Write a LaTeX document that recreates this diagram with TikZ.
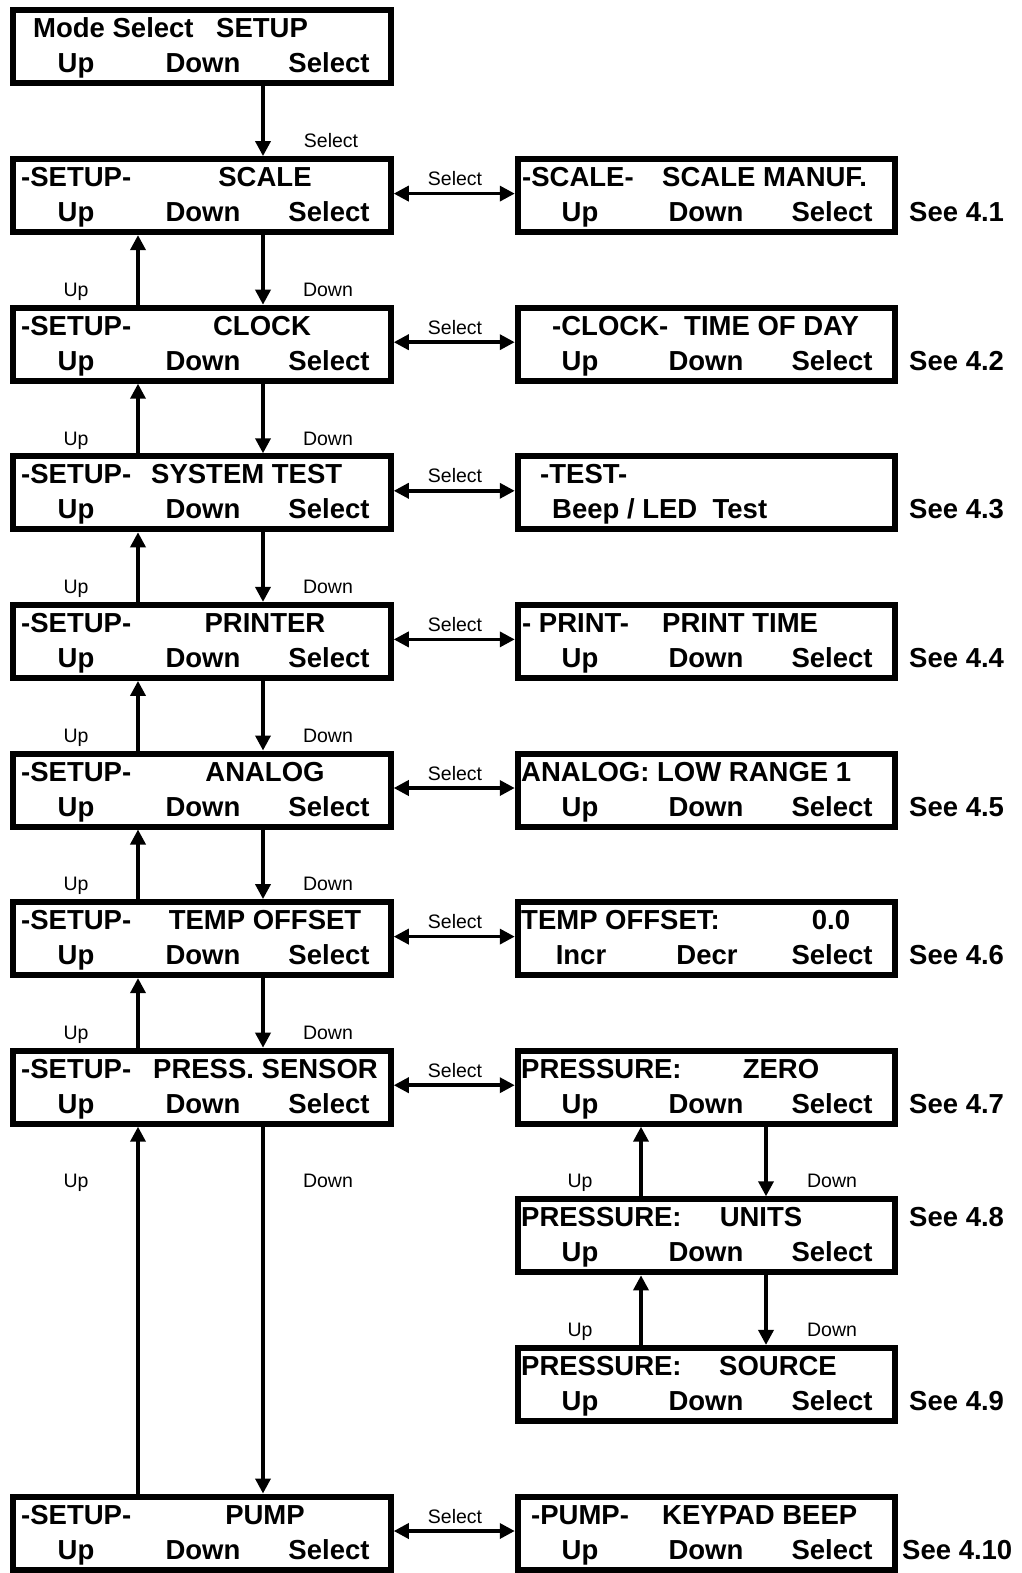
\documentclass[tikz,border=0pt]{standalone}
\usepackage{fontspec}
\setmainfont{Liberation Sans}
\usepackage{tikz}
\usetikzlibrary{arrows.meta, calc, positioning}
\tikzset{
	screen/.style={
			draw=black,
			line width=6pt,
			minimum width=377.5pt,
			minimum height=73pt,
			inner sep=0pt
		},
	keytext/.style={
			font=\fontsize{27.5}{27.5}\selectfont\bfseries,
			inner sep=0pt
		},
	smalltext/.style={
			font=\fontsize{19.5}{19.5}\selectfont,
			inner sep=0pt,
			anchor=base
		},
	arr/.style={
			line width=3.5pt,
			-{Triangle[length=15pt,width=15pt]}
		},
	dblarr/.style={
			line width=3.5pt,
			{Triangle[length=15pt,width=15pt]}-{Triangle[length=15pt,width=15pt]}
		}
}

\begin{document}
\begin{tikzpicture}[x=1pt, y=-1pt]
	\useasboundingbox (0,0) rectangle (1021,1573);

	% columns for the up / down connectors
	\coordinate (upL) at (138,0);
	\coordinate (dnL) at (263,0);
	\coordinate (upR) at (641,0);
	\coordinate (dnR) at (766,0);

	% mode select
	\node[screen] (mode) at (202, 47) {};
	\node[keytext, anchor=base west] (modeA) at (33, 38) {Mode Select};
	\node[keytext, anchor=base west] (modeB) at (216, 38) {SETUP};
	\node[keytext, anchor=base] (modeU) at (76, 73) {Up};
	\node[keytext, anchor=base] (modeD) at (203, 73) {Down};
	\node[keytext, anchor=base] (modeS) at (329, 73) {Select};

	% setup menu, left column
	\node[screen] (setscale) at (202, 195.6) {};
	\node[keytext, anchor=base west] (setscaleA) at (21, 186.6) {-SETUP-};
	\node[keytext, anchor=base] (setscaleB) at (265, 186.6) {SCALE};
	\node[keytext, anchor=base] (setscaleU) at (76, 221.6) {Up};
	\node[keytext, anchor=base] (setscaleD) at (203, 221.6) {Down};
	\node[keytext, anchor=base] (setscaleS) at (329, 221.6) {Select};

	\node[screen] (setclock) at (202, 344.2) {};
	\node[keytext, anchor=base west] (setclockA) at (21, 335.2) {-SETUP-};
	\node[keytext, anchor=base] (setclockB) at (262, 335.2) {CLOCK};
	\node[keytext, anchor=base] (setclockU) at (76, 370.2) {Up};
	\node[keytext, anchor=base] (setclockD) at (203, 370.2) {Down};
	\node[keytext, anchor=base] (setclockS) at (329, 370.2) {Select};

	\node[screen] (settest) at (202, 492.8) {};
	\node[keytext, anchor=base west] (settestA) at (21, 483.8) {-SETUP-};
	\node[keytext, anchor=base west] (settestB) at (151, 483.8) {SYSTEM TEST};
	\node[keytext, anchor=base] (settestU) at (76, 518.8) {Up};
	\node[keytext, anchor=base] (settestD) at (203, 518.8) {Down};
	\node[keytext, anchor=base] (settestS) at (329, 518.8) {Select};

	\node[screen] (setprint) at (202, 641.4) {};
	\node[keytext, anchor=base west] (setprintA) at (21, 632.4) {-SETUP-};
	\node[keytext, anchor=base] (setprintB) at (265, 632.4) {PRINTER};
	\node[keytext, anchor=base] (setprintU) at (76, 667.4) {Up};
	\node[keytext, anchor=base] (setprintD) at (203, 667.4) {Down};
	\node[keytext, anchor=base] (setprintS) at (329, 667.4) {Select};

	\node[screen] (setanalog) at (202, 790) {};
	\node[keytext, anchor=base west] (setanalogA) at (21, 781) {-SETUP-};
	\node[keytext, anchor=base] (setanalogB) at (265, 781) {ANALOG};
	\node[keytext, anchor=base] (setanalogU) at (76, 816) {Up};
	\node[keytext, anchor=base] (setanalogD) at (203, 816) {Down};
	\node[keytext, anchor=base] (setanalogS) at (329, 816) {Select};

	\node[screen] (settemp) at (202, 938.6) {};
	\node[keytext, anchor=base west] (settempA) at (21, 929.6) {-SETUP-};
	\node[keytext, anchor=base] (settempB) at (265, 929.6) {TEMP OFFSET};
	\node[keytext, anchor=base] (settempU) at (76, 964.6) {Up};
	\node[keytext, anchor=base] (settempD) at (203, 964.6) {Down};
	\node[keytext, anchor=base] (settempS) at (329, 964.6) {Select};

	\node[screen] (setpress) at (202, 1087.2) {};
	\node[keytext, anchor=base west] (setpressA) at (21, 1078.2) {-SETUP-};
	\node[keytext, anchor=base west] (setpressB) at (153, 1078.2) {PRESS. SENSOR};
	\node[keytext, anchor=base] (setpressU) at (76, 1113.2) {Up};
	\node[keytext, anchor=base] (setpressD) at (203, 1113.2) {Down};
	\node[keytext, anchor=base] (setpressS) at (329, 1113.2) {Select};

	\node[screen] (setpump) at (202, 1533) {};
	\node[keytext, anchor=base west] (setpumpA) at (21, 1524) {-SETUP-};
	\node[keytext, anchor=base] (setpumpB) at (265, 1524) {PUMP};
	\node[keytext, anchor=base] (setpumpU) at (76, 1559) {Up};
	\node[keytext, anchor=base] (setpumpD) at (203, 1559) {Down};
	\node[keytext, anchor=base] (setpumpS) at (329, 1559) {Select};

	% sub menus, right column
	\node[screen] (scalemanuf) at (706.5, 195.6) {};
	\node[keytext, anchor=base west] (scalemanufA) at (522, 186.6) {-SCALE-};
	\node[keytext, anchor=base west] (scalemanufB) at (662, 186.6) {SCALE MANUF.};
	\node[keytext, anchor=base] (scalemanufU) at (580, 221.6) {Up};
	\node[keytext, anchor=base] (scalemanufD) at (706, 221.6) {Down};
	\node[keytext, anchor=base] (scalemanufS) at (832, 221.6) {Select};
	\node[keytext, anchor=base west] (see41) at (909, 221.6) {See 4.1};

	\node[screen] (clocktime) at (706.5, 344.2) {};
	\node[keytext, anchor=base west] (clocktimeA) at (552, 335.2) {-CLOCK-};
	\node[keytext, anchor=base west] (clocktimeB) at (684, 335.2) {TIME OF DAY};
	\node[keytext, anchor=base] (clocktimeU) at (580, 370.2) {Up};
	\node[keytext, anchor=base] (clocktimeD) at (706, 370.2) {Down};
	\node[keytext, anchor=base] (clocktimeS) at (832, 370.2) {Select};
	\node[keytext, anchor=base west] (see42) at (909, 370.2) {See 4.2};

	\node[screen] (testbeep) at (706.5, 492.8) {};
	\node[keytext, anchor=base west] (testbeepA) at (540, 483.8) {-TEST-};
	\node[keytext, anchor=base west] (testbeepB) at (552, 518.8) {Beep / LED\ \ Test};
	\node[keytext, anchor=base west] (see43) at (909, 518.8) {See 4.3};

	\node[screen] (printtime) at (706.5, 641.4) {};
	\node[keytext, anchor=base west] (printtimeA) at (522, 632.4) {- PRINT-};
	\node[keytext, anchor=base west] (printtimeB) at (662, 632.4) {PRINT TIME};
	\node[keytext, anchor=base] (printtimeU) at (580, 667.4) {Up};
	\node[keytext, anchor=base] (printtimeD) at (706, 667.4) {Down};
	\node[keytext, anchor=base] (printtimeS) at (832, 667.4) {Select};
	\node[keytext, anchor=base west] (see44) at (909, 667.4) {See 4.4};

	\node[screen] (analoglow) at (706.5, 790) {};
	\node[keytext, anchor=base west] (analoglowA) at (521, 781) {ANALOG: LOW RANGE 1};
	\node[keytext, anchor=base] (analoglowU) at (580, 816) {Up};
	\node[keytext, anchor=base] (analoglowD) at (706, 816) {Down};
	\node[keytext, anchor=base] (analoglowS) at (832, 816) {Select};
	\node[keytext, anchor=base west] (see45) at (909, 816) {See 4.5};

	\node[screen] (tempoff) at (706.5, 938.6) {};
	\node[keytext, anchor=base west] (tempoffA) at (521, 929.6) {TEMP OFFSET:};
	\node[keytext, anchor=base] (tempoffB) at (831, 929.6) {0.0};
	\node[keytext, anchor=base] (tempoffU) at (581, 964.6) {Incr};
	\node[keytext, anchor=base] (tempoffD) at (707, 964.6) {Decr};
	\node[keytext, anchor=base] (tempoffS) at (832, 964.6) {Select};
	\node[keytext, anchor=base west] (see46) at (909, 964.6) {See 4.6};

	\node[screen] (pzero) at (706.5, 1087.2) {};
	\node[keytext, anchor=base west] (pzeroA) at (521, 1078.2) {PRESSURE:};
	\node[keytext, anchor=base] (pzeroB) at (781, 1078.2) {ZERO};
	\node[keytext, anchor=base] (pzeroU) at (580, 1113.2) {Up};
	\node[keytext, anchor=base] (pzeroD) at (706, 1113.2) {Down};
	\node[keytext, anchor=base] (pzeroS) at (832, 1113.2) {Select};
	\node[keytext, anchor=base west] (see47) at (909, 1113.2) {See 4.7};

	\node[screen] (punits) at (706.5, 1235.8) {};
	\node[keytext, anchor=base west] (punitsA) at (521, 1226.8) {PRESSURE:};
	\node[keytext, anchor=base] (punitsB) at (761, 1226.8) {UNITS};
	\node[keytext, anchor=base] (punitsU) at (580, 1261.8) {Up};
	\node[keytext, anchor=base] (punitsD) at (706, 1261.8) {Down};
	\node[keytext, anchor=base] (punitsS) at (832, 1261.8) {Select};
	\node[keytext, anchor=base west] (see48) at (909, 1226.8) {See 4.8};

	\node[screen] (psource) at (706.5, 1384.4) {};
	\node[keytext, anchor=base west] (psourceA) at (521, 1375.4) {PRESSURE:};
	\node[keytext, anchor=base] (psourceB) at (778, 1375.4) {SOURCE};
	\node[keytext, anchor=base] (psourceU) at (580, 1410.4) {Up};
	\node[keytext, anchor=base] (psourceD) at (706, 1410.4) {Down};
	\node[keytext, anchor=base] (psourceS) at (832, 1410.4) {Select};
	\node[keytext, anchor=base west] (see49) at (909, 1410.4) {See 4.9};

	\node[screen] (keybeep) at (706.5, 1533) {};
	\node[keytext, anchor=base west] (keybeepA) at (531, 1524) {-PUMP-};
	\node[keytext, anchor=base west] (keybeepB) at (662, 1524) {KEYPAD BEEP};
	\node[keytext, anchor=base] (keybeepU) at (580, 1559) {Up};
	\node[keytext, anchor=base] (keybeepD) at (706, 1559) {Down};
	\node[keytext, anchor=base] (keybeepS) at (832, 1559) {Select};
	\node[keytext, anchor=base west] (see410) at (902, 1559) {See 4.10};

	% mode select -> setup
	\draw[arr] (mode.south -| dnL) -- (setscale.north -| dnL);
	\node[smalltext] (selA) at (331, 147.5) {Select};

	% up / down between the setup screens
	\draw[arr] (setscale.south -| dnL) -- (setclock.north -| dnL);
	\draw[arr] (setclock.north -| upL) -- (setscale.south -| upL);
	\node[smalltext] (up1) at (76, 296) {Up};
	\node[smalltext] (dn1) at (328, 296) {Down};

	\draw[arr] (setclock.south -| dnL) -- (settest.north -| dnL);
	\draw[arr] (settest.north -| upL) -- (setclock.south -| upL);
	\node[smalltext] (up2) at (76, 445) {Up};
	\node[smalltext] (dn2) at (328, 445) {Down};

	\draw[arr] (settest.south -| dnL) -- (setprint.north -| dnL);
	\draw[arr] (setprint.north -| upL) -- (settest.south -| upL);
	\node[smalltext] (up3) at (76, 593.5) {Up};
	\node[smalltext] (dn3) at (328, 593.5) {Down};

	\draw[arr] (setprint.south -| dnL) -- (setanalog.north -| dnL);
	\draw[arr] (setanalog.north -| upL) -- (setprint.south -| upL);
	\node[smalltext] (up4) at (76, 742) {Up};
	\node[smalltext] (dn4) at (328, 742) {Down};

	\draw[arr] (setanalog.south -| dnL) -- (settemp.north -| dnL);
	\draw[arr] (settemp.north -| upL) -- (setanalog.south -| upL);
	\node[smalltext] (up5) at (76, 890.5) {Up};
	\node[smalltext] (dn5) at (328, 890.5) {Down};

	\draw[arr] (settemp.south -| dnL) -- (setpress.north -| dnL);
	\draw[arr] (setpress.north -| upL) -- (settemp.south -| upL);
	\node[smalltext] (up6) at (76, 1039) {Up};
	\node[smalltext] (dn6) at (328, 1039) {Down};

	\draw[arr] (setpress.south -| dnL) -- (setpump.north -| dnL);
	\draw[arr] (setpump.north -| upL) -- (setpress.south -| upL);
	\node[smalltext] (up7) at (76, 1187.5) {Up};
	\node[smalltext] (dn7) at (328, 1187.5) {Down};

	% pressure sub menu
	\draw[arr] (pzero.south -| dnR) -- (punits.north -| dnR);
	\draw[arr] (punits.north -| upR) -- (pzero.south -| upR);
	\node[smalltext] (up8) at (580, 1187.5) {Up};
	\node[smalltext] (dn8) at (832, 1187.5) {Down};

	\draw[arr] (punits.south -| dnR) -- (psource.north -| dnR);
	\draw[arr] (psource.north -| upR) -- (punits.south -| upR);
	\node[smalltext] (up9) at (580, 1336) {Up};
	\node[smalltext] (dn9) at (832, 1336) {Down};

	% select into the sub menus
	\draw[dblarr] ([yshift=2pt]setscale.east) -- ([yshift=2pt]scalemanuf.west);
	\node[smalltext] (sel1) at (455, 185.5) {Select};
	\draw[dblarr] ([yshift=2pt]setclock.east) -- ([yshift=2pt]clocktime.west);
	\node[smalltext] (sel2) at (455, 334) {Select};
	\draw[dblarr] ([yshift=2pt]settest.east) -- ([yshift=2pt]testbeep.west);
	\node[smalltext] (sel3) at (455, 482.5) {Select};
	\draw[dblarr] ([yshift=2pt]setprint.east) -- ([yshift=2pt]printtime.west);
	\node[smalltext] (sel4) at (455, 631) {Select};
	\draw[dblarr] ([yshift=2pt]setanalog.east) -- ([yshift=2pt]analoglow.west);
	\node[smalltext] (sel5) at (455, 780) {Select};
	\draw[dblarr] ([yshift=2pt]settemp.east) -- ([yshift=2pt]tempoff.west);
	\node[smalltext] (sel6) at (455, 928.5) {Select};
	\draw[dblarr] ([yshift=2pt]setpress.east) -- ([yshift=2pt]pzero.west);
	\node[smalltext] (sel7) at (455, 1077) {Select};
	\draw[dblarr] ([yshift=2pt]setpump.east) -- ([yshift=2pt]keybeep.west);
	\node[smalltext] (sel8) at (455, 1523) {Select};
\end{tikzpicture}
\end{document}
